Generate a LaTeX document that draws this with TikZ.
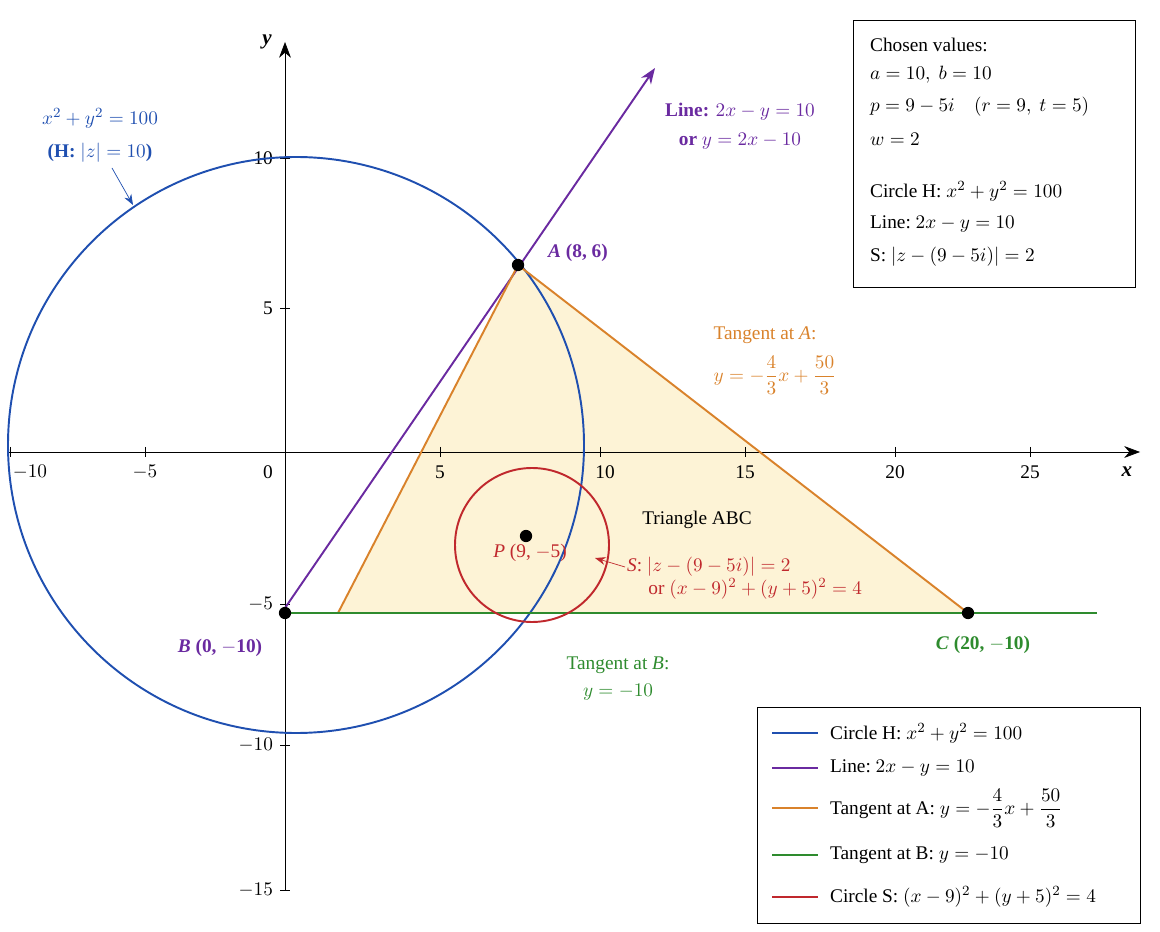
\documentclass[tikz,border=0pt]{standalone}
\usepackage{amsmath}
\usepackage{fontspec}
\setmainfont{Liberation Serif}
\usetikzlibrary{arrows.meta}
\definecolor{cb}{HTML}{1F4FB0}
\definecolor{cp}{HTML}{6A2AA0}
\definecolor{co}{HTML}{D9822B}
\definecolor{cg}{HTML}{2E8B2E}
\definecolor{cr}{HTML}{C0282D}
\definecolor{cf}{HTML}{FDF3D6}
\begin{document}
\begin{tikzpicture}[x=0.02cm,y=-0.02cm,font=\fontsize{11}{13}\selectfont,
  lbl/.style={inner sep=1pt},
  tick/.style={inner sep=1pt},
  dot/.style={circle,fill=black,inner sep=0pt,minimum size=7pt},
  ln/.style={line width=1.1pt}]
\useasboundingbox (0,0) rectangle (1160,932);
\coordinate (T1) at (338,613);
\coordinate (A) at (518,265);
\coordinate (C) at (968,613);
\fill[cf] (T1) -- (A) -- (C) -- cycle;
% axes
\coordinate (xl) at (8,452); \coordinate (xr) at (1140,452);
\coordinate (yb) at (285,890); \coordinate (yt) at (285,42);
\draw[-{Stealth[length=9pt]}] (xl) -- (xr);
\draw[-{Stealth[length=9pt]}] (yb) -- (yt);
\node[font=\fontsize{12}{14}\selectfont\bfseries\itshape] at (267,42) {y};
\node[font=\fontsize{12}{14}\selectfont\bfseries\itshape] at (1127,472) {x};
\foreach \x/\lx/\t in {10/30/$-10$,145/145/$-5$,440/440/5,600/605/10,745/745/15,895/895/20,1030/1030/25}{
  \draw (\x,447) -- (\x,457);
  \node[tick] at (\lx,472) {\t};}
\node[tick] at (268,472) {0};
\foreach \y/\t in {158/10,308/5,604/$-5$,745/$-10$,890/$-15$}{
  \draw (280,\y) -- (290,\y);
  \node[tick,anchor=east] at (275,\y) {\t};}
\draw[cb,ln] (296,445) circle[radius=288];
\coordinate (L0) at (285,608); \coordinate (L1) at (655,68);
\draw[cp,ln,-{Stealth[length=9pt]}] (L0) -- (L1);
\draw[co,ln] (T1) -- (A) -- (C);
\coordinate (G0) at (285,613); \coordinate (G1) at (1097,613);
\draw[cg,ln] (G0) -- (G1);
\draw[cr,ln] (532,545) circle[radius=77];
\node[dot] (Ad) at (A) {};
\node[dot] (Bd) at (285,613) {};
\node[dot] (Cd) at (C) {};
\node[dot] (Pd) at (526,536) {};
\node[cp,lbl,font=\fontsize{11}{13}\selectfont\bfseries] at (578,253) {\textit{A} (8, 6)};
\node[cp,lbl,font=\fontsize{11}{13}\selectfont\bfseries] at (220,648) {\textit{B} (0, $-$10)};
\node[cg,lbl,font=\fontsize{11}{13}\selectfont\bfseries] at (983,645) {\textit{C} (20, $-$10)};
\node[cr,lbl] at (530,553) {\textit{P} (9, $-$5)};
\node[lbl] at (697,520) {Triangle ABC};
\node[co,lbl] at (765,335) {Tangent at \textit{A}:};
\node[co,lbl] at (775,375) {$y=-\dfrac{4}{3}x+\dfrac{50}{3}$};
\node[cr,lbl,anchor=west,align=left] (Sl) at (625,578) {\textit{S}: $|z-(9-5i)|=2$\\ \hspace*{1.1em}or $(x-9)^2+(y+5)^2=4$};
\coordinate (Sa) at (595,558);
\draw[cr,-{Stealth[length=6pt]}] (625,567) -- (Sa);
\node[cg,lbl] at (618,665) {Tangent at \textit{B}:};
\node[cg,lbl] at (618,692) {$y=-10$};
\node[cp,lbl,font=\fontsize{11}{13}\selectfont\bfseries] at (740,112) {Line: $2x-y=10$};
\node[cp,lbl,font=\fontsize{11}{13}\selectfont\bfseries] at (740,141) {or $y=2x-10$};
\node[cb,lbl,font=\fontsize{11}{13}\selectfont\bfseries] at (100,118) {$x^2+y^2=100$};
\node[cb,lbl,font=\fontsize{11}{13}\selectfont\bfseries] at (100,153) {(H: $|z|=10$)};
\coordinate (Ha0) at (112,168); \coordinate (Ha1) at (133,205);
\draw[cb,-{Stealth[length=6pt]}] (Ha0) -- (Ha1);
\draw[fill=white] (853,20) rectangle (1135,287);
\foreach \y/\t in {45/{Chosen values:},75/{$a=10,\ b=10$},107/{$p=9-5i\quad(r=9,\ t=5)$},139/{$w=2$},191/{Circle H:\ $x^2+y^2=100$},224/{Line:\ $2x-y=10$},257/{S:\ $|z-(9-5i)|=2$}}{
  \node[lbl,anchor=west] at (868,\y) {\t};}
\draw[fill=white] (757,707) rectangle (1140,923);
\foreach \y/\c/\t in {733/cb/{Circle H:\ $x^2+y^2=100$},768/cp/{Line:\ $2x-y=10$},808/co/{Tangent at A:\ $y=-\dfrac{4}{3}x+\dfrac{50}{3}$},855/cg/{Tangent at B:\ $y=-10$},897/cr/{Circle S:\ $(x-9)^2+(y+5)^2=4$}}{
  \draw[\c,ln] (772,\y) -- (818,\y);
  \node[lbl,anchor=west] at (828,\y) {\t};}
\end{tikzpicture}
\end{document}
